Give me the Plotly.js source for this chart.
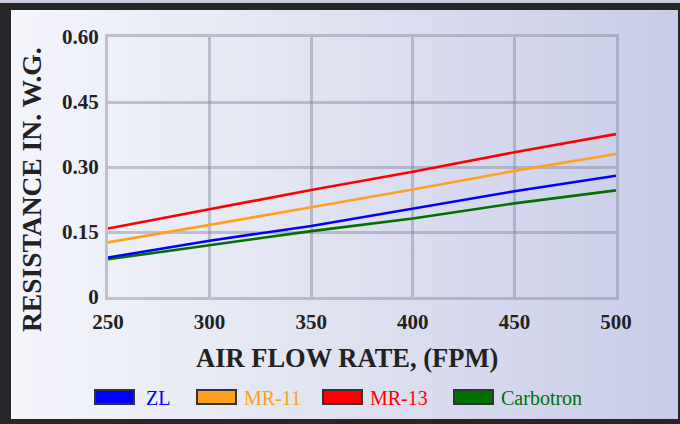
<!DOCTYPE html>
<html>
<head>
<meta charset="utf-8">
<script src="https://cdn.plot.ly/plotly-3.0.1.min.js"></script>
<style>
  html, body { margin: 0; padding: 0; width: 680px; height: 424px; overflow: hidden; background: #c9cde0; }
  #frame { position: absolute; left: 0; top: 3px; width: 667px; height: 409px;
           border-style: solid; border-color: #262628;
           border-width: 7px 2px 5px 11px;
           background: linear-gradient(to right, #f4f5fb 0%, #e6e8f3 35%, #d6d9ee 70%, #c8cce8 100%); }
  #chart { position: absolute; left: 0; top: 0; width: 680px; height: 424px; }
</style>
</head>
<body>
<div id="frame"></div>
<div id="chart"></div>
<script>
// ---- data ----
var airFlow = [250, 300, 350, 400, 450, 500];
var seriesNames = ["ZL", "MR-11", "MR-13", "Carbotron"];
var zl        = [0.091, 0.130, 0.164, 0.204, 0.244, 0.280];
var mr11      = [0.126, 0.166, 0.207, 0.248, 0.291, 0.330];
var mr13      = [0.158, 0.202, 0.247, 0.289, 0.334, 0.376];
var carbotron = [0.087, 0.120, 0.152, 0.181, 0.216, 0.246];
var seriesColors = ["#0000ff", "#ffa020", "#ff0000", "#007000"];
var yTickVals = [0, 0.15, 0.30, 0.45, 0.60];
var yTickText = ["0", "0.15", "0.30", "0.45", "0.60"];
var xTickVals = [250, 300, 350, 400, 450, 500];
var xTitle = "AIR FLOW RATE, (FPM)";
var yTitle = "RESISTANCE IN. W.G.";

var seriesValues = [zl, mr11, mr13, carbotron];
// draw order: carbotron first so blue sits above at start
var order = [3, 0, 1, 2];
var traces = order.map(function (i) {
  return {
    x: airFlow, y: seriesValues[i], name: seriesNames[i], type: "scatter", mode: "lines",
    line: { color: seriesColors[i], width: 2.6 }, showlegend: false, hoverinfo: "skip"
  };
});

// ---- layout geometry (pixels) ----
var W = 680, H = 424;
var M = { l: 108, r: 64, t: 37, b: 127 };
var plotW = W - M.l - M.r, plotH = H - M.t - M.b;
function px2x(p) { return (p - M.l) / plotW; }
function py2y(p) { return (H - M.b - p) / plotH; }

var serif = "Liberation Serif, Times New Roman, serif";
var legendBoxLeft = [95, 197, 323, 454];
var legendTextLeft = [144, 242, 368, 499];
var legendY = 397;

var shapes = [], annotations = [];
seriesNames.forEach(function (n, i) {
  shapes.push({
    type: "rect", xref: "paper", yref: "paper",
    x0: px2x(legendBoxLeft[i]), x1: px2x(legendBoxLeft[i] + 39),
    y0: py2y(legendY + 7), y1: py2y(legendY - 7),
    fillcolor: seriesColors[i], line: { color: "#333333", width: 2 }
  });
  annotations.push({
    xref: "paper", yref: "paper", x: px2x(legendTextLeft[i]), y: py2y(legendY + 1),
    xanchor: "left", yanchor: "middle", showarrow: false, text: n,
    font: { family: serif, size: 20, color: seriesColors[i] }
  });
});

var titleFontX = { family: serif, size: 26.5, color: "#222222", weight: "bold" };
var titleFontY = { family: serif, size: 27.5, color: "#222222", weight: "bold" };
// axis titles placed as annotations (offset from plot centre as in the original)
annotations.push({
  xref: "paper", yref: "paper", x: px2x(347), y: py2y(358),
  xanchor: "center", yanchor: "middle", showarrow: false, text: xTitle, font: titleFontX
});
annotations.push({
  xref: "paper", yref: "paper", x: px2x(31), y: py2y(190),
  xanchor: "center", yanchor: "middle", showarrow: false, textangle: -90, text: yTitle, font: titleFontY
});

var gridCol = "rgba(125,128,148,0.42)";
var tickFont = { family: serif, size: 21, color: "#222222", weight: "bold" };

var layout = {
  width: W, height: H,
  margin: M,
  paper_bgcolor: "rgba(0,0,0,0)",
  plot_bgcolor: "rgba(0,0,0,0)",
  showlegend: false,
  xaxis: {
    range: [250, 500], tickvals: xTickVals, ticktext: xTickVals.map(String),
    showgrid: true, gridcolor: gridCol, gridwidth: 3,
    showline: true, linecolor: gridCol, linewidth: 3, mirror: true,
    zeroline: false, ticks: "outside", ticklen: 4, tickcolor: "rgba(0,0,0,0)",
    tickfont: tickFont, automargin: false
  },
  yaxis: {
    range: [0, 0.6], tickvals: yTickVals, ticktext: yTickText,
    showgrid: true, gridcolor: gridCol, gridwidth: 3,
    showline: true, linecolor: gridCol, linewidth: 3, mirror: true,
    zeroline: false, ticks: "outside", ticklen: 2, tickcolor: "rgba(0,0,0,0)",
    tickfont: tickFont, automargin: false
  },
  shapes: shapes,
  annotations: annotations
};

Plotly.newPlot("chart", traces, layout, { displayModeBar: false, staticPlot: true });
</script>
</body>
</html>
